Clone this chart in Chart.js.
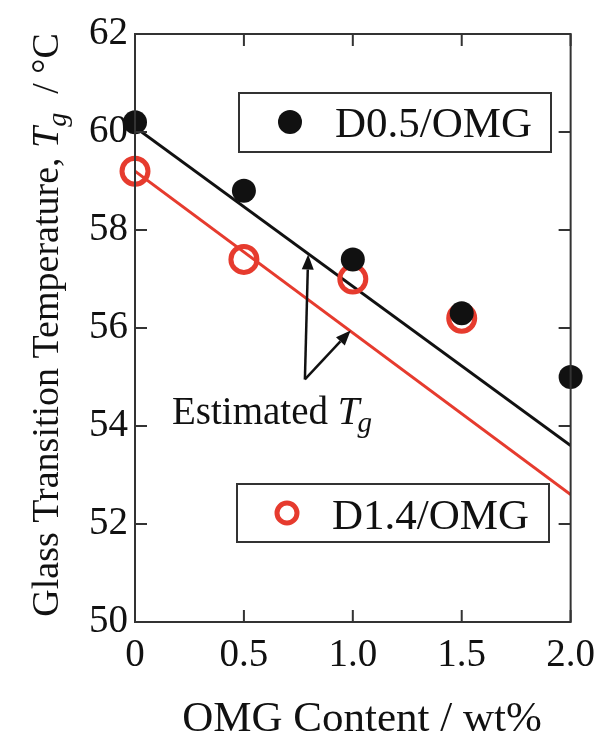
<!DOCTYPE html>
<html>
<head>
<meta charset="UTF-8">
<title>Tg vs OMG content</title>
<script src="https://cdn.jsdelivr.net/npm/chart.js"></script>
<style>
  body { margin: 0; background: #fff; }
  canvas { display: block; }
</style>
</head>
<body>
<canvas id="tgChart" width="605" height="740"></canvas>
<script>
  // measured Tg (°C) against OMG content (wt%)
  const omgContent = [0, 0.5, 1.0, 1.5, 2.0];
  const tgD05 = [60.2, 58.8, 57.4, 56.3, 55.0];
  const tgD14 = [59.2, 57.4, 57.0, 56.2];

  // estimated Tg lines (end points at 0 and 2 wt%)
  const estX = [0, 2];
  const estD05 = [60.1, 53.6];
  const estD14 = [59.2, 52.6];

  const yTicks = [50, 52, 54, 56, 58, 60, 62];
  const xTicks = [0, 0.5, 1.0, 1.5, 2.0];

  const RED = '#e63b2e';
  const SERIF = '"Liberation Serif", "DejaVu Serif", serif';

  const toPoints = (xs, ys) => ys.map((y, i) => ({ x: xs[i], y: y }));

  // frame, inward ticks on all four sides, legend boxes, labels and arrows
  const decorPlugin = {
    id: 'decor',
    afterDraw(chart) {
      const { ctx, chartArea: a, scales: { x, y } } = chart;
      ctx.save();
      ctx.strokeStyle = '#333';
      ctx.lineWidth = 2;
      ctx.strokeRect(a.left, a.top, a.right - a.left, a.bottom - a.top);

      const tl = 12;
      ctx.beginPath();
      xTicks.forEach(v => {
        const px = x.getPixelForValue(v);
        ctx.moveTo(px, a.bottom); ctx.lineTo(px, a.bottom - tl);
        ctx.moveTo(px, a.top); ctx.lineTo(px, a.top + tl);
      });
      yTicks.forEach(v => {
        const py = y.getPixelForValue(v);
        ctx.moveTo(a.left, py); ctx.lineTo(a.left + tl, py);
        ctx.moveTo(a.right, py); ctx.lineTo(a.right - tl, py);
      });
      ctx.stroke();

      // legend boxes
      ctx.lineWidth = 2;
      ctx.strokeStyle = '#333';
      ctx.fillStyle = '#fff';
      ctx.font = '43px ' + SERIF;
      ctx.textBaseline = 'alphabetic';
      ctx.textAlign = 'left';

      ctx.fillRect(239, 93, 312, 59);
      ctx.strokeRect(239, 93, 312, 59);
      ctx.fillStyle = '#111';
      ctx.beginPath(); ctx.arc(290, 122, 12, 0, Math.PI * 2); ctx.fill();
      ctx.fillText('D0.5/OMG', 335, 137);

      ctx.fillStyle = '#fff';
      ctx.fillRect(237, 484, 312, 58);
      ctx.strokeRect(237, 484, 312, 58);
      ctx.strokeStyle = RED;
      ctx.lineWidth = 5;
      ctx.beginPath(); ctx.arc(287, 513, 10, 0, Math.PI * 2); ctx.stroke();
      ctx.fillStyle = '#111';
      ctx.fillText('D1.4/OMG', 332, 529);

      // "Estimated Tg" note with arrows to both lines
      const base = { x: x.getPixelForValue(0.78), y: y.getPixelForValue(54.95) };
      const tips = [
        { x: x.getPixelForValue(0.795), y: y.getPixelForValue(57.5) },
        { x: x.getPixelForValue(0.99), y: y.getPixelForValue(55.95) }
      ];
      ctx.strokeStyle = '#111';
      ctx.fillStyle = '#111';
      ctx.lineWidth = 2.5;
      tips.forEach(t => {
        const ang = Math.atan2(t.y - base.y, t.x - base.x);
        const hl = 15, hw = 6;
        const bx = t.x - hl * Math.cos(ang), by = t.y - hl * Math.sin(ang);
        ctx.beginPath(); ctx.moveTo(base.x, base.y); ctx.lineTo(bx, by); ctx.stroke();
        ctx.beginPath();
        ctx.moveTo(t.x, t.y);
        ctx.lineTo(bx + hw * Math.sin(ang), by - hw * Math.cos(ang));
        ctx.lineTo(bx - hw * Math.sin(ang), by + hw * Math.cos(ang));
        ctx.closePath(); ctx.fill();
      });

      let tx = 172;
      const ty = 424;
      ctx.font = '39px ' + SERIF;
      ctx.fillText('Estimated ', tx, ty);
      tx += ctx.measureText('Estimated ').width;
      ctx.font = 'italic 39px ' + SERIF;
      ctx.fillText('T', tx, ty);
      tx += ctx.measureText('T').width - 2;
      ctx.font = 'italic 29px ' + SERIF;
      ctx.fillText('g', tx, ty + 8);

      // x axis title
      ctx.font = '43px ' + SERIF;
      ctx.textAlign = 'center';
      ctx.fillText('OMG Content / wt%', 362, 731);

      // y axis title, rotated, with italic subscripted T
      ctx.translate(58, 325);
      ctx.rotate(-Math.PI / 2);
      const parts = [
        { t: 'Glass Transition Temperature, ', f: '38px ', dy: 0 },
        { t: 'T', f: 'italic 38px ', dy: 0 },
        { t: 'g', f: 'italic 28px ', dy: 8 },
        { t: '  / °C', f: '38px ', dy: 0 }
      ];
      let total = 0;
      parts.forEach(p => { ctx.font = p.f + SERIF; p.w = ctx.measureText(p.t).width; total += p.w; });
      let px = -total / 2;
      ctx.textAlign = 'left';
      parts.forEach(p => {
        ctx.font = p.f + SERIF;
        ctx.fillText(p.t, px, p.dy);
        px += p.w;
      });
      ctx.restore();
    }
  };

  new Chart(document.getElementById('tgChart'), {
    type: 'scatter',
    data: {
      datasets: [
        {
          label: 'D0.5/OMG',
          data: toPoints(omgContent, tgD05),
          pointRadius: 12,
          pointBackgroundColor: '#111',
          pointBorderWidth: 0,
          clip: false,
          order: 0
        },
        {
          label: 'D1.4/OMG',
          data: toPoints(omgContent, tgD14),
          pointRadius: 13,
          pointBackgroundColor: 'rgba(0,0,0,0)',
          pointBorderColor: RED,
          pointBorderWidth: 5,
          clip: false,
          order: 1
        },
        {
          label: 'Estimated D0.5',
          type: 'line',
          data: toPoints(estX, estD05),
          borderColor: '#111',
          borderWidth: 3,
          pointRadius: 0,
          order: 2
        },
        {
          label: 'Estimated D1.4',
          type: 'line',
          data: toPoints(estX, estD14),
          borderColor: RED,
          borderWidth: 3,
          pointRadius: 0,
          order: 3
        }
      ]
    },
    options: {
      responsive: false,
      animation: false,
      devicePixelRatio: 1,
      layout: { padding: { top: 34, right: 29, left: 0, bottom: 0 } },
      plugins: { legend: { display: false }, tooltip: { enabled: false } },
      scales: {
        x: {
          type: 'linear',
          min: 0, max: 2,
          afterFit: s => { s.height = 118; },
          afterBuildTicks: s => { s.ticks = xTicks.map(v => ({ value: v })); },
          grid: { display: false, drawTicks: false },
          border: { display: false },
          ticks: {
            padding: 10,
            color: '#111',
            font: { family: SERIF, size: 39 },
            maxRotation: 0,
            callback: v => v === 0 ? '0' : v.toFixed(1)
          }
        },
        y: {
          min: 50, max: 62,
          afterFit: s => { s.width = 135; },
          afterBuildTicks: s => { s.ticks = yTicks.map(v => ({ value: v })); },
          grid: { display: false, drawTicks: false },
          border: { display: false },
          ticks: {
            padding: 7,
            color: '#111',
            font: { family: SERIF, size: 39 },
            callback: v => String(v)
          }
        }
      }
    },
    plugins: [decorPlugin]
  });
</script>
</body>
</html>
